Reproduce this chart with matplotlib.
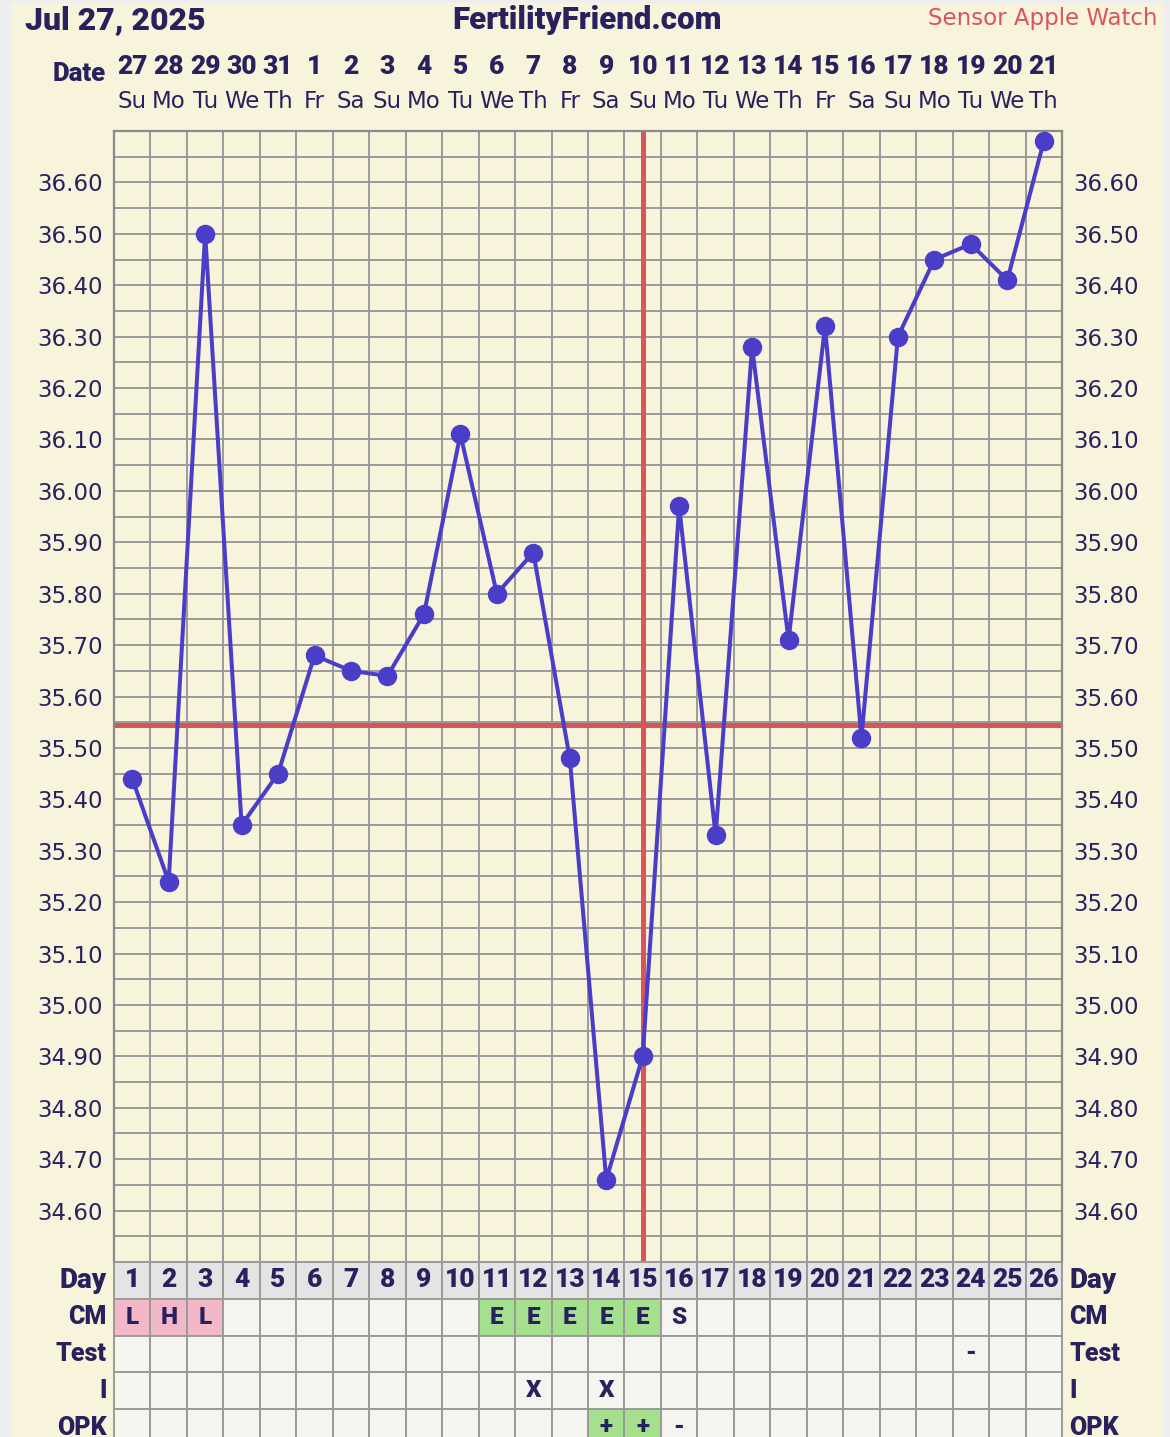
import matplotlib
matplotlib.use("Agg")
from matplotlib import pyplot as plt
from matplotlib.patches import Rectangle
from matplotlib import transforms
import numpy as np

# ---- chart data ----
cycle_days = list(range(1, 27))
dates = ['27', '28', '29', '30', '31', '1', '2', '3', '4', '5', '6', '7', '8',
         '9', '10', '11', '12', '13', '14', '15', '16', '17', '18', '19', '20', '21']
weekdays = ['Su', 'Mo', 'Tu', 'We', 'Th', 'Fr', 'Sa'] * 3 + ['Su', 'Mo', 'Tu', 'We', 'Th']
temps = [35.44, 35.24, 36.50, 35.35, 35.45, 35.68, 35.65, 35.64, 35.76, 36.11,
         35.80, 35.88, 35.48, 34.66, 34.90, 35.97, 35.33, 36.28, 35.71, 36.32,
         35.52, 36.30, 36.45, 36.48, 36.41, 36.68]
coverline = 35.545
ovulation_day = 15

cm = ['L', 'H', 'L', '', '', '', '', '', '', '', 'E', 'E', 'E', 'E', 'E', 'S',
      '', '', '', '', '', '', '', '', '', '']
test = [''] * 23 + ['-', '', '']
intercourse = [''] * 11 + ['X', '', 'X'] + [''] * 12
opk = [''] * 13 + ['+', '+', '-'] + [''] * 10
row_labels = ['Day', 'CM', 'Test', 'I', 'OPK']

# ---- style ----
W, H = 1170, 1437
CREAM = '#f8f4dc'
NAVY = '#28215e'
LINE = '#4a3dc8'
RED = '#d9555a'
GRID = '#9a9a9a'
BOLD = 'Roboto'
HEAVY = 'heavy'

def fx(px):
    return px / W

def fy(py):
    return 1 - py / H

fig = plt.figure(figsize=(W / 100, H / 100), dpi=100, facecolor='#eeeeee')
fig.patches.append(Rectangle((fx(12), 0), fx(1163) - fx(12), fy(3), transform=fig.transFigure,
                             facecolor=CREAM, edgecolor='none', zorder=-10))

# ---- main temperature chart ----
ax = fig.add_axes([fx(114), fy(1262), fx(1062) - fx(114), (1262 - 131) / H])
ax.set_facecolor(CREAM)
ax.set_xlim(0.5, 26.5)
ax.set_ylim(34.50, 36.70)
ax.set_xticks([])
ax.set_xticks(np.arange(0.5, 27, 1), minor=True)
ax.set_yticks(np.round(np.arange(34.60, 36.65, 0.10), 2))
ax.set_yticks(np.round(np.arange(34.50, 36.75, 0.05), 2), minor=True)
ax.yaxis.set_major_formatter(matplotlib.ticker.FormatStrFormatter('%.2f'))
ax.tick_params(which='both', length=0, labelright=True, labelsize=16.5,
               labelcolor=NAVY, pad=8)
ax.grid(which='both', color=GRID, lw=1.4, zorder=0)
ax.set_axisbelow(True)
for s in ['left', 'right', 'top']:
    ax.spines[s].set_color('#8a8a8a')
    ax.spines[s].set_linewidth(1.6)
ax.spines['bottom'].set_visible(False)

ax.axhline(coverline, color=RED, lw=3.6, zorder=2)
ax.axvline(ovulation_day, color=RED, lw=3.6, zorder=2)
ax.plot(cycle_days, temps, color=LINE, lw=2.9, marker='o', ms=13, zorder=3,
        clip_on=False)

# header: dates and weekdays
hdr = transforms.blended_transform_factory(ax.transData, fig.transFigure)
for d, dt, wd in zip(cycle_days, dates, weekdays):
    ax.text(d, fy(67), dt, transform=hdr, ha='center', va='center', fontsize=19,
            fontweight=HEAVY, family=BOLD, color=NAVY)
    ax.text(d, fy(102), wd, transform=hdr, ha='center', va='center',
            fontsize=16.5, color=NAVY)

fig.text(fx(106), fy(74), 'Date', ha='right', va='center', fontsize=18.5,
         fontweight=HEAVY, family=BOLD, color=NAVY)
fig.text(fx(25), fy(20), 'Jul 27, 2025', ha='left', va='center', fontsize=23,
         fontweight=HEAVY, family=BOLD, color=NAVY)
fig.text(fx(587), fy(20), 'FertilityFriend.com', ha='center', va='center',
         fontsize=22.5, fontweight=HEAVY, family=BOLD, color=NAVY)
fig.text(fx(1157), fy(18), 'Sensor Apple Watch', ha='right', va='center',
         fontsize=16.5, color=RED)

# ---- bottom table ----
row_h = 36.8
tax = fig.add_axes([fx(114), fy(1262 + 5 * row_h), fx(1062) - fx(114), 5 * row_h / H])
tax.set_xlim(0.5, 26.5)
tax.set_ylim(5, 0)
tax.axis('off')

rows = [[str(d) for d in cycle_days], cm, test, intercourse, opk]
for r, vals in enumerate(rows):
    for d, v in zip(cycle_days, vals):
        fc = '#e4e4e4' if r == 0 else '#f5f5ef'
        if r == 1 and v in ('L', 'H'):
            fc = '#f2b8c8'
        if (r == 1 and v == 'E') or (r == 4 and v == '+'):
            fc = '#a4e08e'
        tax.add_patch(Rectangle((d - 0.5, r), 1, 1, facecolor=fc, edgecolor=GRID,
                                lw=1.4, clip_on=False))
        if v:
            tax.text(d, r + 0.5, v, ha='center', va='center', color=NAVY,
                     family=BOLD, fontweight=HEAVY,
                     fontsize=19 if r == 0 else 17.5, clip_on=False)
    tax.text(0.3, r + 0.5, row_labels[r], ha='right', va='center', color=NAVY,
             family=BOLD, fontweight=HEAVY, fontsize=20 if r == 0 else 18,
             clip_on=False)
    tax.text(26.7, r + 0.5, row_labels[r], ha='left', va='center', color=NAVY,
             family=BOLD, fontweight=HEAVY, fontsize=20 if r == 0 else 18,
             clip_on=False)

fig.savefig('out.png', dpi=100, facecolor=fig.get_facecolor())
